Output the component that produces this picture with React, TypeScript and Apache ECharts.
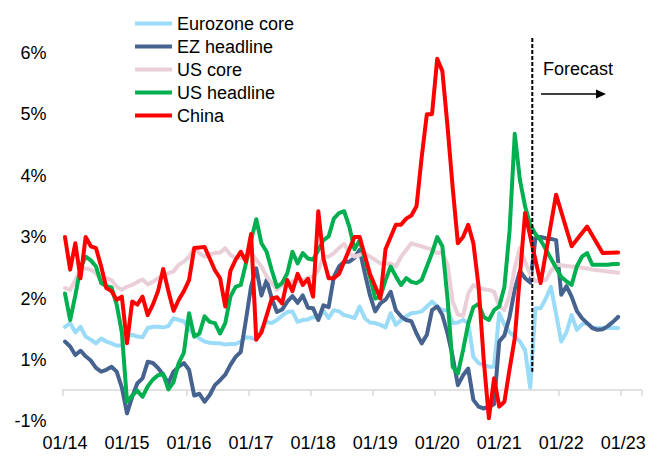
import React, { useEffect, useRef } from 'react';
import * as echarts from 'echarts';

// Monthly categories Jan 2014 .. Apr 2023 (axis runs a little past the last data point)
const months: string[] = [];
for (let y = 14; y <= 23; y++) {
  for (let mo = 1; mo <= 12; mo++) {
    if (y === 23 && mo > 4) break;
    months.push(`${String(mo).padStart(2, '0')}/${y}`);
  }
}

const yTickLabels = ['-1%', '1%', '2%', '3%', '4%', '5%', '6%'];

const seriesNames = ['Eurozone core', 'EZ headline', 'US core', 'US headline', 'China'];

const eurozoneCore = [
  1.54, 1.6, 1.45, 1.54, 1.38, 1.33, 1.27, 1.35, 1.3, 1.27, 1.23, 1.24,
  1.38, 1.41, 1.38, 1.37, 1.52, 1.54, 1.54, 1.53, 1.55, 1.68, 1.65, 1.63,
  1.5, 1.42, 1.35, 1.3, 1.28, 1.27, 1.27, 1.25, 1.26, 1.26, 1.3, 1.37,
  1.36, 1.33, 1.5, 1.62, 1.6, 1.65, 1.72, 1.78, 1.79, 1.62, 1.65, 1.66,
  1.7, 1.68, 1.8, 1.68, 1.81, 1.79, 1.73, 1.71, 1.68, 1.87, 1.68, 1.61,
  1.6, 1.57, 1.53, 1.76, 1.57, 1.65, 1.71, 1.76, 1.77, 1.79, 1.87, 1.95,
  1.87, 1.81, 1.81, 1.6, 1.61, 1.65, 1.6, 1.05, 0.95, 0.92, 0.89, 0.89,
  1.76, 1.57, 1.45, 1.38, 1.3, 1.16, 0.55, 1.84, 1.84, 2.0, 2.19, 1.75,
  1.3, 1.45, 1.73, 1.49, 1.58, 1.6, 1.53, 1.52, 1.52, 1.52, 1.52, 1.52,
];

const ezHeadline = [
  1.3, 1.22, 1.08, 1.15, 1.06, 0.99, 0.87, 0.81, 0.84, 0.89, 0.81, 0.55,
  0.13, 0.4, 0.62, 0.7, 0.97, 0.95, 0.87, 0.76, 0.62, 0.81, 0.89, 0.95,
  0.84, 0.42, 0.45, 0.32, 0.43, 0.59, 0.67, 0.76, 0.92, 1.05, 1.13, 1.65,
  2.2, 2.49, 2.05, 2.3, 2.0, 1.78, 1.82, 1.95, 2.04, 1.93, 2.05, 1.85,
  1.84, 1.65, 1.89, 1.86, 2.35, 2.52, 2.6, 2.6, 2.66, 2.79, 2.41, 2.05,
  1.79, 1.92, 1.98, 2.11, 1.81, 1.71, 1.65, 1.63, 1.43, 1.27, 1.41, 1.81,
  1.87, 1.73, 1.43, 1.05, 0.59, 0.75, 0.86, 0.35, 0.24, 0.21, 0.24, 0.28,
  1.3, 1.4, 1.7, 2.15, 2.45, 2.33, 2.26, 2.98, 3.0, 2.98, 2.97, 2.95,
  2.06, 2.2, 2.03, 1.8, 1.68, 1.6, 1.52, 1.49, 1.5, 1.55, 1.62, 1.7,
];

const usCore = [
  2.17, 2.14, 2.3, 2.47, 2.49, 2.47, 2.41, 2.3, 2.33, 2.3, 2.19, 2.14,
  2.19, 2.22, 2.27, 2.31, 2.23, 2.27, 2.33, 2.38, 2.41, 2.44, 2.55, 2.6,
  2.68, 2.82, 2.74, 2.68, 2.72, 2.74, 2.75, 2.82, 2.71, 2.66, 2.66, 2.7,
  2.75, 2.63, 2.52, 2.36, 2.25, 2.14, 2.22, 2.19, 2.28, 2.28, 2.3, 2.33,
  2.36, 2.46, 2.68, 2.68, 2.74, 2.82, 2.89, 2.74, 2.68, 2.71, 2.74, 2.68,
  2.63, 2.57, 2.57, 2.57, 2.52, 2.68, 2.79, 2.9, 2.87, 2.85, 2.82, 2.8,
  2.74, 2.75, 2.55, 1.95, 1.74, 1.72, 2.08, 2.22, 2.17, 2.15, 2.14, 2.11,
  1.87, 1.81, 2.05, 2.5, 2.82, 2.6, 2.4, 2.28, 2.3, 2.3, 2.45, 2.55,
  2.54, 2.53, 2.52, 2.51, 2.5, 2.49, 2.47, 2.46, 2.45, 2.44, 2.43, 2.42,
];

const usHeadline = [
  2.08, 1.65, 2.05, 2.5, 2.68, 2.62, 2.52, 2.25, 2.2, 2.18, 1.9, 1.45,
  0.32, 0.42, 0.5, 0.4, 0.57, 0.68, 0.75, 0.77, 0.52, 0.64, 0.95, 1.12,
  1.76, 1.38, 1.43, 1.71, 1.62, 1.6, 1.43, 1.6, 2.03, 2.19, 2.22, 2.57,
  2.95, 3.29, 2.9, 2.76, 2.46, 2.19, 2.25, 2.41, 2.76, 2.57, 2.74, 2.65,
  2.63, 2.79, 2.95, 3.01, 3.3, 3.39, 3.42, 3.17, 2.8, 2.95, 2.65, 2.35,
  2.0, 2.03, 2.3, 2.52, 2.36, 2.22, 2.33, 2.27, 2.25, 2.3, 2.52, 2.74,
  3.0, 2.85, 2.0, 0.89, 0.78, 1.16, 1.59, 1.86, 1.91, 1.7, 1.65, 1.81,
  1.87, 2.19, 3.1, 4.68, 3.93, 3.5, 3.2, 3.05, 2.95, 2.8, 2.65, 2.5,
  2.35, 2.28, 2.22, 2.52, 2.68, 2.74, 2.55, 2.55, 2.55, 2.55, 2.56, 2.56,
];

const china = [
  3.0, 2.47, 2.9, 2.33, 3.0, 2.85, 2.82, 2.52, 2.17, 2.12, 1.98, 2.03,
  1.27, 1.95, 1.9, 2.03, 1.73, 1.9, 2.12, 2.48, 2.12, 1.8, 1.98, 2.12,
  2.3, 2.82, 2.83, 2.84, 2.65, 2.46, 2.33, 1.87, 2.45, 2.63, 2.76, 2.6,
  3.05, 1.33, 1.45, 1.72, 2.0, 2.02, 1.92, 2.3, 2.12, 2.4, 2.22, 2.32,
  2.03, 3.42, 2.65, 2.33, 2.33, 2.4, 2.6, 2.8, 3.0, 3.0, 2.7, 2.4,
  2.2, 2.0, 2.8, 3.0, 3.2, 3.2, 3.3, 3.35, 3.5, 4.3, 5.0, 5.0,
  5.9, 5.7, 4.8, 3.8, 2.9, 3.0, 3.2, 2.9, 2.2, 1.0, 0.05, 0.7,
  0.24, 0.32, 0.85, 1.35, null, 3.39, null, null, 2.25, null, null, 3.69,
  null, null, 2.85, null, null, 3.17, null, null, 2.74, null, null, 2.75,
];

const seriesData = [eurozoneCore, ezHeadline, usCore, usHeadline, china];
const colors = ['#9ADBF8', '#46628E', '#EACFD9', '#00B050', '#FF0000'];

const FONT = 'Liberation Sans, Arial, sans-serif';

export default function App() {
  const ref = useRef<HTMLDivElement>(null);
  useEffect(() => {
    if (!ref.current) return;
    const chart = echarts.init(ref.current, undefined, { renderer: 'svg' });
    chart.setOption({
      animation: false,
      backgroundColor: '#ffffff',
      textStyle: { fontFamily: FONT },
      grid: { left: 62.4, right: 19.6, top: 52.7, bottom: 42.6, containLabel: false },
      legend: {
        orient: 'vertical',
        left: 130,
        top: 7,
        itemWidth: 37,
        itemHeight: 4,
        itemGap: 0,
        icon: 'rect',
        textStyle: { fontSize: 18, color: '#000', fontFamily: FONT, lineHeight: 23 },
        data: seriesNames,
      },
      xAxis: {
        type: 'category',
        data: months,
        boundaryGap: true,
        offset: -31.4,
        axisLine: { onZero: false, lineStyle: { color: '#D9D9D9', width: 1.5 } },
        axisTick: { show: true, interval: 11, length: 6, lineStyle: { color: '#D9D9D9', width: 1.5 } },
        axisLabel: { interval: 11, margin: 44, fontSize: 18, color: '#000', fontFamily: FONT },
        splitLine: { show: false },
      },
      yAxis: {
        type: 'value',
        min: 0,
        max: 6,
        interval: 1,
        axisLine: { show: false },
        axisTick: { show: false },
        splitLine: { show: false },
        axisLabel: {
          margin: 16,
          fontSize: 18,
          color: '#000',
          fontFamily: FONT,
          formatter: (v: number) => yTickLabels[Math.round(v)] ?? '',
        },
      },
      series: seriesNames.map((name, i) => ({
        name,
        type: 'line',
        data: seriesData[i],
        showSymbol: false,
        symbol: 'none',
        connectNulls: true,
        color: colors[i],
        lineStyle: { color: colors[i], width: 4, cap: 'round', join: 'round' },
        z: 2 + i,
      })),
      graphic: [
        {
          type: 'line',
          shape: { x1: 532.3, y1: 38, x2: 532.3, y2: 371.7 },
          style: { stroke: '#000', lineWidth: 2, lineDash: [4, 2] },
          z: 100,
        },
        {
          type: 'text',
          left: 543,
          top: 60,
          style: { text: 'Forecast', fontSize: 18, fill: '#000', fontFamily: FONT },
          z: 100,
        },
        {
          type: 'line',
          shape: { x1: 541, y1: 94, x2: 598, y2: 94 },
          style: { stroke: '#000', lineWidth: 1.5 },
          z: 100,
        },
        {
          type: 'polygon',
          shape: { points: [[596, 89.5], [606, 94], [596, 98.5]] },
          style: { fill: '#000' },
          z: 100,
        },
      ],
    });
    return () => chart.dispose();
  }, []);
  return (
    <div
      ref={ref}
      style={{ position: 'absolute', left: 0, top: 0, width: 661, height: 464 }}
    />
  );
}
